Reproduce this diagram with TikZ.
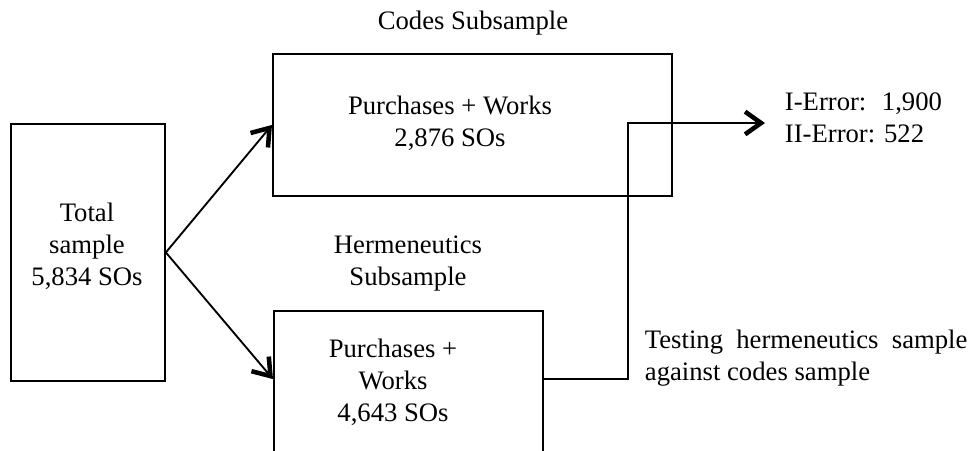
\documentclass[tikz,border=0pt]{standalone}
\usepackage{fontspec}
\setmainfont{Liberation Serif}
\usetikzlibrary{arrows.meta}

\begin{document}
\begin{tikzpicture}[x=0.75pt, y=-0.75pt,
  box/.style={draw, line width=1.4pt, inner sep=0pt, anchor=north west},
  txt/.style={align=center, font=\fontsize{20}{24}\selectfont},
  side/.style={txt, align=left, anchor=west, inner sep=2pt},
  arrow/.style={line width=1.4pt, -{Straight Barb[length=12pt,width=17pt,line width=3.4pt]}},
]
\useasboundingbox (0,0) rectangle (973,450);

% Boxes (sizes in pt)
\node[box, minimum width=115.5pt, minimum height=192.75pt] (total) at (10,123) {};
\node[box, minimum width=299.25pt, minimum height=106.5pt] (codes) at (272,53) {};
\node[box, minimum width=201.75pt, minimum height=120pt] (herm) at (273,310) {};

% Texts
\node[txt] (codeslbl) at (473,23) {Codes Subsample};
\node[txt] (codestxt) at (450,123) {Purchases + Works\\2,876 SOs};
\node[txt] (totaltxt) at (87,246) {Total\\sample\\5,834 SOs};
\node[txt] (hermlbl) at (408,264) {Hermeneutics\\Subsample};
\node[txt] (hermtxt) at (393,382) {Purchases +\\Works\\4,643 SOs};
\node[side] (errors) at (782,118) {I-Error:~ 1,900\\II-Error: 522};
\node[side] (testing) at (642,358) {Testing~ hermeneutics~ sample\\against codes sample};

% Connectors
\coordinate (turn) at (628,123);
\coordinate (tip) at (765,123);
\draw[arrow] (total.east) -- (codes.west);
\draw[arrow] (total.east) -- (herm.175);
\draw[arrow] (herm.5) -| (turn) -- (tip);

\end{tikzpicture}
\end{document}
